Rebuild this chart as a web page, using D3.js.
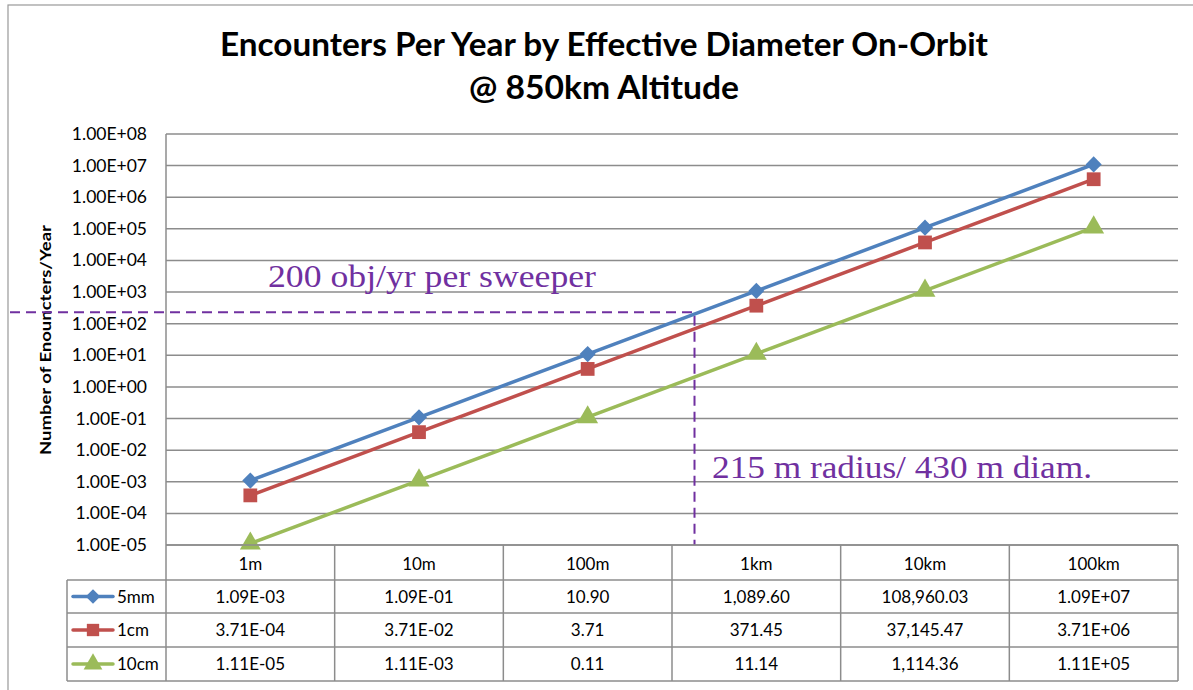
<!DOCTYPE html>
<html>
<head>
<meta charset="utf-8">
<script src="https://cdn.jsdelivr.net/npm/d3@7"></script>
<style>
  body { margin: 0; background: #fff; }
  text { font-family: Lato, "Open Sans", sans-serif; }
</style>
</head>
<body>
<div id="chart"></div>
<script>
//data
var diameters = ["1m", "10m", "100m", "1km", "10km", "100km"];
var seriesNames = ["5mm", "1cm", "10cm"];
var seriesColors = ["#4F81BD", "#C0504D", "#9BBB59"];
var seriesSymbols = [d3.symbolSquare, d3.symbolSquare, d3.symbolTriangle];
var seriesRotate = [45, 0, 0];
var val5mm = [1.09e-3, 1.09e-1, 10.90, 1089.60, 108960.03, 1.09e7];
var val1cm = [3.71e-4, 3.71e-2, 3.71, 371.45, 37145.47, 3.71e6];
var val10cm = [1.11e-5, 1.11e-3, 0.11, 11.14, 1114.36, 1.11e5];
var lbl5mm = ["1.09E-03", "1.09E-01", "10.90", "1,089.60", "108,960.03", "1.09E+07"];
var lbl1cm = ["3.71E-04", "3.71E-02", "3.71", "371.45", "37,145.47", "3.71E+06"];
var lbl10cm = ["1.11E-05", "1.11E-03", "0.11", "11.14", "1,114.36", "1.11E+05"];
var yTicks = [1e-5, 1e-4, 1e-3, 1e-2, 1e-1, 1, 10, 100, 1e3, 1e4, 1e5, 1e6, 1e7, 1e8];
var sweeperRate = 230;      // obj/yr line
var sweeperDiam = 430;      // m

var series = [val5mm, val1cm, val10cm];
var labels = [lbl5mm, lbl1cm, lbl10cm];

var width = 1193, height = 690;
var plotLeft = 166, plotRight = 1178, plotTop = 134, plotBottom = 545;
var purple = "#7030A0", gridCol = "#8c8c8c";

var svg = d3.select("#chart").append("svg")
    .attr("width", width)
    .attr("height", height);

//outer chart frame
svg.append("rect")
    .attr("x", 8).attr("y", 5)
    .attr("width", 1200).attr("height", 700)
    .attr("fill", "none")
    .attr("stroke", "#999").attr("stroke-width", 1.2);

var x = d3.scaleBand().domain(diameters).range([plotLeft, plotRight]);
var xm = d3.scaleLog().domain([1, 100000])
    .range([x("1m") + x.bandwidth() / 2, x("100km") + x.bandwidth() / 2]);
var y = d3.scaleLog().domain([1e-5, 1e8]).range([plotBottom, plotTop]);

//title
svg.append("text")
    .attr("x", 604).attr("y", 56)
    .attr("text-anchor", "middle")
    .attr("font-size", 32).attr("font-weight", "bold")
    .attr("textLength", 768).attr("lengthAdjust", "spacingAndGlyphs")
    .text("Encounters Per Year by Effective Diameter On-Orbit");
svg.append("text")
    .attr("x", 604).attr("y", 99)
    .attr("text-anchor", "middle")
    .attr("font-size", 32).attr("font-weight", "bold")
    .attr("textLength", 270).attr("lengthAdjust", "spacingAndGlyphs")
    .text("@ 850km Altitude");

//gridlines + y axis
svg.append("g").selectAll("line.grid")
    .data(yTicks)
    .enter().append("line")
    .attr("class", "grid")
    .attr("x1", plotLeft).attr("x2", plotRight)
    .attr("y1", function(d) { return y(d); })
    .attr("y2", function(d) { return y(d); })
    .attr("stroke", gridCol).attr("stroke-width", 1.5);

svg.append("line")
    .attr("x1", plotLeft).attr("x2", plotLeft)
    .attr("y1", plotTop).attr("y2", plotBottom)
    .attr("stroke", gridCol).attr("stroke-width", 1.5);

svg.append("g").selectAll("text.ytick")
    .data(yTicks)
    .enter().append("text")
    .attr("class", "ytick")
    .attr("x", 147)
    .attr("y", function(d) { return y(d) + 6; })
    .attr("text-anchor", "end")
    .attr("font-size", 17.5)
    .text(function(d) {
        var e = Math.round(Math.log10(d));
        return "1.00E" + (e < 0 ? "-" : "+") + d3.format("02d")(Math.abs(e));
    });

svg.append("text")
    .attr("transform", "translate(51,340) rotate(-90)")
    .attr("text-anchor", "middle")
    .attr("font-size", 15).attr("font-weight", "bold")
    .attr("textLength", 230).attr("lengthAdjust", "spacingAndGlyphs")
    .text("Number of Enouncters/Year");

//annotation dashed lines
svg.append("path")
    .attr("d", "M10 " + y(sweeperRate) + " H" + xm(sweeperDiam) + " V" + plotBottom)
    .attr("fill", "none")
    .attr("stroke", purple).attr("stroke-width", 2)
    .attr("stroke-dasharray", "10,6");

svg.append("text")
    .attr("x", 268).attr("y", 287)
    .attr("fill", purple)
    .style("font-family", "'Liberation Serif', 'DejaVu Serif', serif")
    .attr("font-size", 31)
    .attr("textLength", 328).attr("lengthAdjust", "spacingAndGlyphs")
    .text("200 obj/yr per sweeper");

svg.append("text")
    .attr("x", 712).attr("y", 478)
    .attr("fill", purple)
    .style("font-family", "'Liberation Serif', 'DejaVu Serif', serif")
    .attr("font-size", 31)
    .attr("textLength", 380).attr("lengthAdjust", "spacingAndGlyphs")
    .text("215 m radius/ 430 m diam.");

//series lines + markers
var line = d3.line()
    .x(function(d, i) { return x(diameters[i]) + x.bandwidth() / 2; })
    .y(function(d) { return y(d); });

var markSize = [130, 190, 190];

series.forEach(function(vals, s) {
    svg.append("path")
        .datum(vals)
        .attr("d", line)
        .attr("fill", "none")
        .attr("stroke", seriesColors[s])
        .attr("stroke-width", 3.5)
        .style("stroke-linejoin", "round");
    svg.append("g").selectAll("path.mark")
        .data(vals)
        .enter().append("path")
        .attr("class", "mark")
        .attr("d", d3.symbol().type(seriesSymbols[s]).size(markSize[s]))
        .attr("fill", seriesColors[s])
        .attr("transform", function(d, i) {
            return "translate(" + (x(diameters[i]) + x.bandwidth() / 2) + "," + y(d) + ") rotate(" + seriesRotate[s] + ")";
        });
});

//data table
var rowTop = [545, 580, 613, 647, 681];
var tbl = svg.append("g");

// horizontal lines
tbl.append("line").attr("x1", plotLeft).attr("x2", plotRight)
    .attr("y1", rowTop[0]).attr("y2", rowTop[0]);
[1, 2, 3, 4].forEach(function(r) {
    tbl.append("line").attr("x1", 67).attr("x2", plotRight)
        .attr("y1", rowTop[r]).attr("y2", rowTop[r]);
});
// vertical lines
var cols = diameters.map(function(d) { return x(d); }).concat([plotRight]);
cols.forEach(function(cx) {
    tbl.append("line").attr("x1", cx).attr("x2", cx)
        .attr("y1", rowTop[0]).attr("y2", rowTop[4]);
});
tbl.append("line").attr("x1", 67).attr("x2", 67)
    .attr("y1", rowTop[1]).attr("y2", rowTop[4]);
tbl.selectAll("line").attr("stroke", gridCol).attr("stroke-width", 1.5);

tbl.selectAll("text.head")
    .data(diameters)
    .enter().append("text")
    .attr("class", "head")
    .attr("x", function(d) { return x(d) + x.bandwidth() / 2; })
    .attr("y", 570)
    .attr("text-anchor", "middle")
    .attr("font-size", 17)
    .text(function(d) { return d; });

labels.forEach(function(lbls, s) {
    var ty = (rowTop[s + 1] + rowTop[s + 2]) / 2 + 6;
    tbl.selectAll("text.cell" + s)
        .data(lbls)
        .enter().append("text")
        .attr("class", "cell" + s)
        .attr("x", function(d, i) { return x(diameters[i]) + x.bandwidth() / 2; })
        .attr("y", ty)
        .attr("text-anchor", "middle")
        .attr("font-size", 17)
        .text(function(d) { return d; });

    // legend key
    var ky = (rowTop[s + 1] + rowTop[s + 2]) / 2;
    tbl.append("line")
        .attr("x1", 73).attr("x2", 113)
        .attr("y1", ky).attr("y2", ky)
        .attr("stroke", seriesColors[s]).attr("stroke-width", 3.5)
        .attr("stroke-linecap", "round");
    tbl.append("path")
        .attr("d", d3.symbol().type(seriesSymbols[s]).size(markSize[s] * 0.8))
        .attr("fill", seriesColors[s])
        .attr("transform", "translate(93," + ky + ") rotate(" + seriesRotate[s] + ")");
    tbl.append("text")
        .attr("x", 117).attr("y", ky + 6)
        .attr("font-size", 17)
        .text(seriesNames[s]);
});
</script>
</body>
</html>
